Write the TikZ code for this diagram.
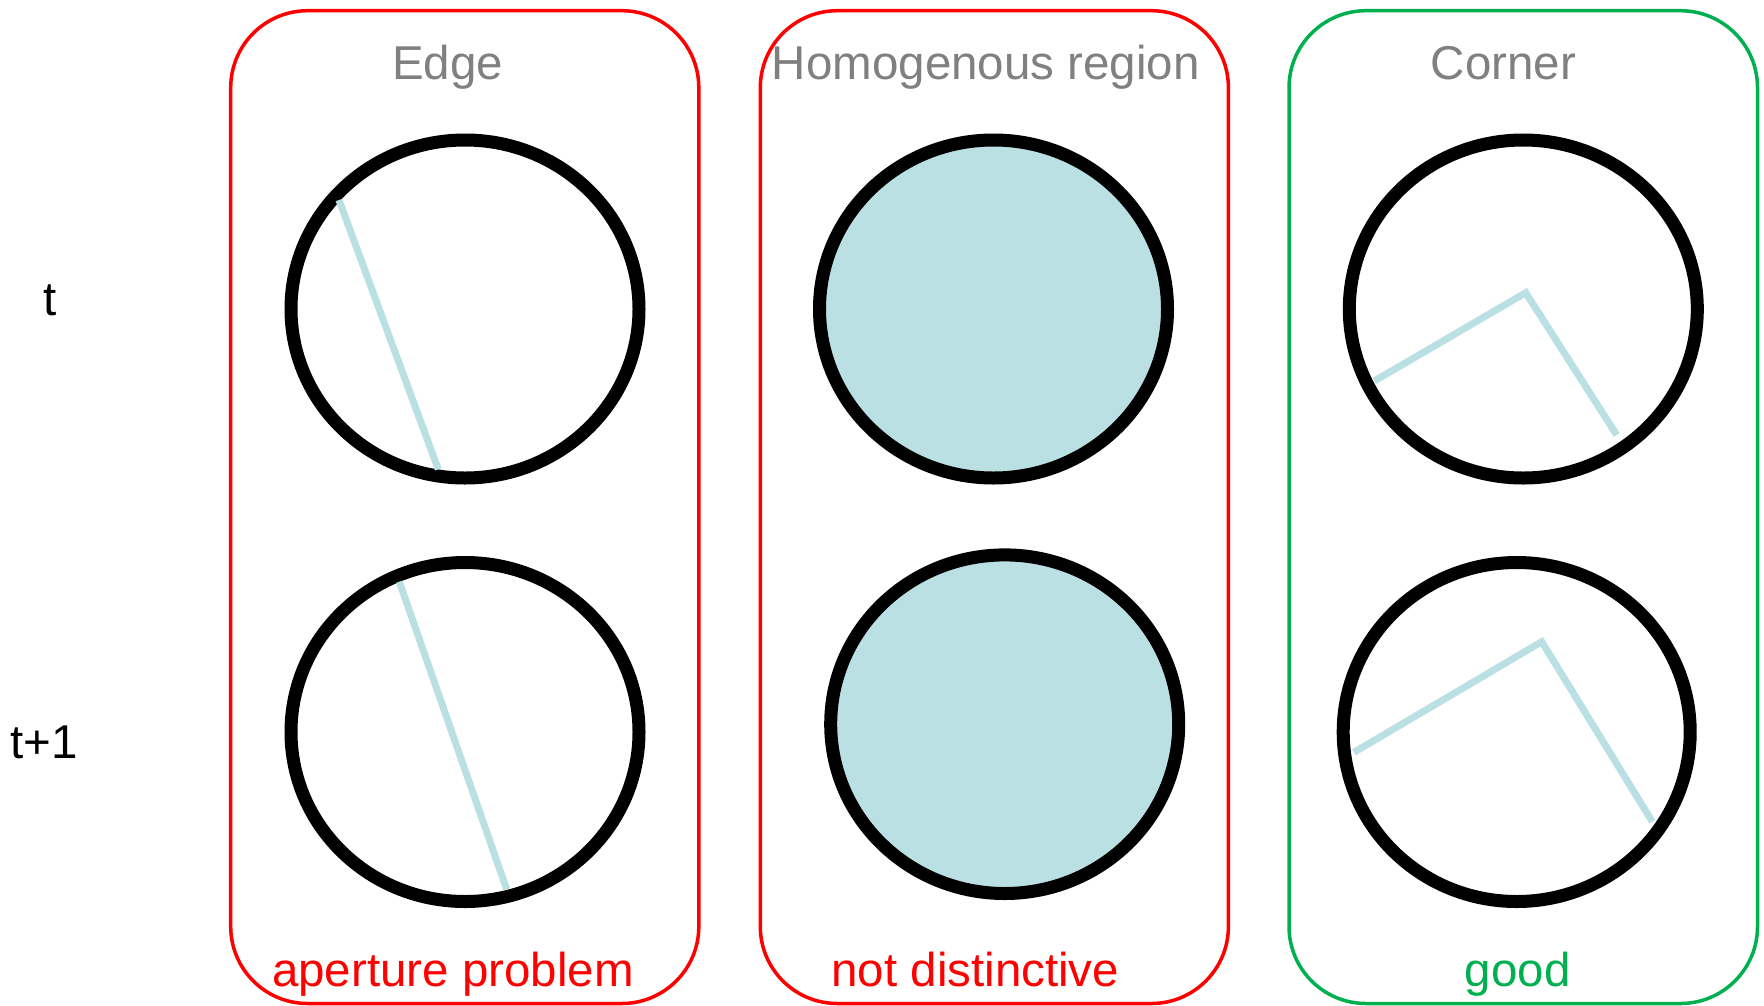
\documentclass[tikz,border=0pt]{standalone}
\usepackage{fontspec}
\setmainfont{Liberation Sans}
\definecolor{boxred}{HTML}{FF0000}
\definecolor{boxgreen}{HTML}{00B050}
\definecolor{lblue}{HTML}{BBE0E3}
\definecolor{titlegray}{HTML}{808080}
\begin{document}
\begin{tikzpicture}[x=1pt,y=-1pt,
  panel/.style={line width=3.5pt,rounded corners=77pt},
  patch/.style={draw=black,line width=13pt},
  feature/.style={draw=lblue,line width=7pt},
  lbl/.style={anchor=base,inner sep=0pt,font=\fontsize{47.5}{57}\selectfont},
  title/.style={lbl,text=titlegray}]
\useasboundingbox (0,0) rectangle (1764,1005);
% panels
\draw[panel,draw=boxred] (230.7,10.7) rectangle (698.8,1003.5);
\draw[panel,draw=boxred] (760.3,10.7) rectangle (1228.4,1003.5);
\draw[panel,draw=boxgreen] (1289,10.7) rectangle (1757.5,1003.5);
% titles
\node[title] (tEdge) at (447.5,79) {Edge};
\node[title] (tHom) at (985.8,79) {Homogenous region};
\node[title] (tCorner) at (1503.3,79) {Corner};
% row labels
\node[lbl] (rowT) at (50,315.7) {t};
\node[lbl] (rowT1) at (44,758) {t+1};
% bottom labels
\node[lbl,text=boxred] (bEdge) at (453,986.7) {aperture problem};
\node[lbl,text=boxred] (bHom) at (975.3,986.7) {not distinctive};
\node[lbl,text=boxgreen] (bCorner) at (1517.7,986.7) {good};
% edge patches
\draw[patch,fill=white] (465,309) ellipse [x radius=174, y radius=169];
\draw[patch,fill=white] (465,732) ellipse [x radius=174, y radius=169.5];
\draw[feature] (339,200) -- (438.3,469.3);
\draw[feature] (399.3,581.7) -- (506.7,889.3);
% homogenous patches
\draw[patch,fill=lblue] (993.5,309) ellipse [x radius=174, y radius=169];
\draw[patch,fill=lblue] (1004.7,724.2) ellipse [x radius=174, y radius=169.3];
% corner patches
\draw[patch,fill=white] (1523.3,309) ellipse [x radius=174, y radius=169];
\draw[patch,fill=white] (1516.7,732) ellipse [x radius=173.5, y radius=169.5];
\draw[feature] (1374.3,381) -- (1525.7,292.7) -- (1616.7,435);
\draw[feature] (1354,752.3) -- (1541.7,641.7) -- (1652.3,821.7);
\end{tikzpicture}
\end{document}
